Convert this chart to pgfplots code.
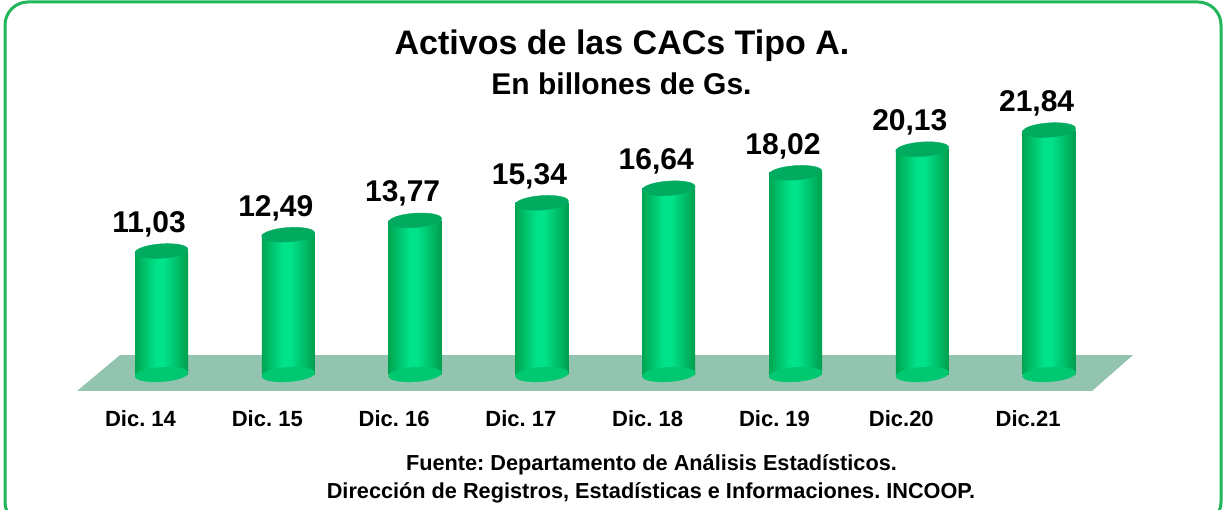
\documentclass[border=0pt]{standalone}
\usepackage{pgfplots}
\pgfplotsset{compat=1.18}
\usepackage{fontspec}
\setmainfont{Liberation Sans}
\frenchspacing
\definecolor{cylL}{HTML}{00A651}
\definecolor{cylM}{HTML}{00E38B}
\definecolor{cylR}{HTML}{009E4C}
\definecolor{cylTop}{HTML}{00AA5E}
\definecolor{cylBot}{HTML}{00C870}
\definecolor{floorc}{HTML}{93C4AF}
\definecolor{framec}{HTML}{22B65A}
\pgfdeclarehorizontalshading{cyl}{100bp}{color(0bp)=(cylL); color(25bp)=(cylL); color(45bp)=(cylM); color(52bp)=(cylM); color(75bp)=(cylR); color(100bp)=(cylR)}
\pgfplotsset{cylbar/.style={ybar, bar width=53pt, bar shift=0pt, draw=none, shade, shading=cyl}}
\begin{document}
\begin{tikzpicture}
\useasboundingbox (0,0) rectangle (1225pt,510pt);
\draw[line width=3pt, color=framec, rounded corners=23pt] (5pt,-15pt) rectangle (1221pt,508pt);
\node[anchor=base, font=\fontsize{34}{40}\selectfont\bfseries] at (622pt,455pt) {Activos de las CACs Tipo A.};
\node[anchor=base, font=\fontsize{30}{36}\selectfont\bfseries] at (621.5pt,415pt) {En billones de Gs.};
\node[anchor=base, font=\fontsize{21.7}{26}\selectfont\bfseries] at (651.5pt,39pt) {Fuente: Departamento de Análisis Estadísticos.};
\node[anchor=base, font=\fontsize{21.7}{26}\selectfont\bfseries] at (651pt,11.7pt) {Dirección de Registros, Estadísticas e Informaciones. INCOOP.};
\begin{axis}[
  at={(9.34pt,113.11pt)}, anchor=south west,
  x=126.8pt, y=11.193pt,
  xmin=-1.2, xmax=8.2, ymin=-2, ymax=25,
  clip=false,
  axis line style={draw=none},
  major tick style={draw=none},
  major tick length=0pt,
  ytick=\empty,
  xtick={0,...,7},
  xticklabels={Dic. 14,Dic. 15,Dic. 16,Dic. 17,Dic. 18,Dic. 19,Dic.20,Dic.21},
  xticklabel style={font=\fontsize{22}{26}\selectfont\bfseries, anchor=base, yshift=-29.8pt, xshift=-21pt},
]
% floor
\addplot[fill=floorc, draw=none] coordinates {(-0.666,-1.474) (7.338,-1.474) (7.662,1.742) (-0.327,1.742)} -- cycle;
% bottom caps
\addplot[only marks, mark=*, mark size=26.5pt, mark options={draw=cylBot, fill=cylBot, rotate=4, yscale=0.27}] coordinates {(0,0) (1,0) (2,0) (3,0) (4,0) (5,0) (6,0) (7,0)};
% bodies
\addplot[cylbar] coordinates {(0,11.03)};
\addplot[cylbar] coordinates {(1,12.49)};
\addplot[cylbar] coordinates {(2,13.77)};
\addplot[cylbar] coordinates {(3,15.34)};
\addplot[cylbar] coordinates {(4,16.64)};
\addplot[cylbar] coordinates {(5,18.02)};
\addplot[cylbar] coordinates {(6,20.13)};
\addplot[cylbar] coordinates {(7,21.84)};
% tops with labels
\addplot[only marks, mark=*, mark size=26.5pt, mark options={draw=cylTop, fill=cylTop, rotate=4, yscale=0.27},
  point meta=explicit symbolic, nodes near coords={\pgfplotspointmeta},
  nodes near coords style={anchor=base, xshift=-12.5pt, yshift=18.5pt, font=\fontsize{30}{36}\selectfont\bfseries, text=black}]
  table[meta=lab] {
x y lab
0 11.03 11,03
1 12.49 12,49
2 13.77 13,77
3 15.34 15,34
4 16.64 16,64
5 18.02 18,02
6 20.13 20,13
7 21.84 21,84
};
\end{axis}
\end{tikzpicture}
\end{document}
